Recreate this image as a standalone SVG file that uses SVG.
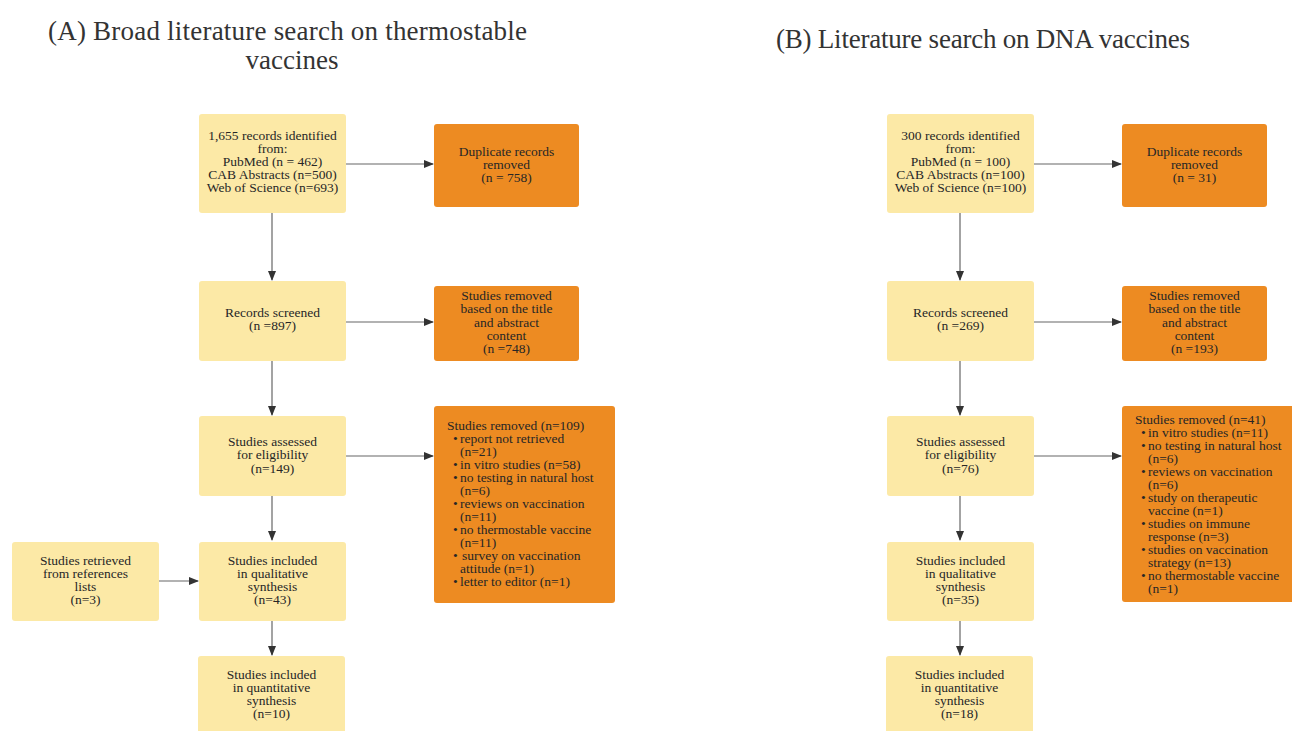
<svg xmlns="http://www.w3.org/2000/svg" width="1292" height="731" viewBox="0 0 1292 731">
<style>
.t{font-family:"Liberation Serif",serif;font-size:27px;fill:#333}
.b{font-family:"Liberation Serif",serif;font-size:13.5px;fill:#262626}
.c{text-anchor:middle}
.y{fill:#FCE9A6}
.o{fill:#ED8B22}
.l{stroke:#666;stroke-width:1.2;fill:none}
</style>
<defs>
<marker id="ah" markerWidth="10" markerHeight="8" refX="9" refY="4" orient="auto" markerUnits="userSpaceOnUse">
<path d="M0,0 L10,4 L0,8 Z" fill="#333"/>
</marker>
</defs>
<rect width="1292" height="731" fill="#fff"/>
<text class="t" x="48" y="40" textLength="479">(A) Broad literature search on thermostable</text>
<text class="t c" x="292" y="69">vaccines</text>
<text class="t" x="776" y="48" textLength="414">(B) Literature search on DNA vaccines</text>

<g id="connectors">
<path class="l" d="M346,164 H433" marker-end="url(#ah)"/>
<path class="l" d="M346,322 H433" marker-end="url(#ah)"/>
<path class="l" d="M346,456 H433" marker-end="url(#ah)"/>
<path class="l" d="M159,581 H198" marker-end="url(#ah)"/>
<path class="l" d="M272,213 V280" marker-end="url(#ah)"/>
<path class="l" d="M272,361 V415" marker-end="url(#ah)"/>
<path class="l" d="M272,496 V540" marker-end="url(#ah)"/>
<path class="l" d="M272,621 V655" marker-end="url(#ah)"/>
<path class="l" d="M1034,164 H1121" marker-end="url(#ah)"/>
<path class="l" d="M1034,322 H1121" marker-end="url(#ah)"/>
<path class="l" d="M1034,456 H1121" marker-end="url(#ah)"/>
<path class="l" d="M960,213 V280" marker-end="url(#ah)"/>
<path class="l" d="M960,361 V415" marker-end="url(#ah)"/>
<path class="l" d="M960,496 V540" marker-end="url(#ah)"/>
<path class="l" d="M960,621 V655" marker-end="url(#ah)"/>
</g>

<g id="a-identified">
<rect class="y" x="199" y="114" width="147" height="99" rx="3"/>
<text class="b c"><tspan x="272.5" y="140">1,655 records identified</tspan><tspan x="272.5" y="153">from:</tspan><tspan x="272.5" y="166">PubMed (n = 462)</tspan><tspan x="272.5" y="179">CAB Abstracts (n=500)</tspan><tspan x="272.5" y="192">Web of Science (n=693)</tspan></text>
</g>
<g id="a-duplicates">
<rect class="o" x="434" y="124" width="145" height="83" rx="3"/>
<text class="b c"><tspan x="506.5" y="156">Duplicate records</tspan><tspan x="506.5" y="169">removed</tspan><tspan x="506.5" y="182">(n = 758)</tspan></text>
</g>
<g id="a-screened">
<rect class="y" x="199" y="281" width="147" height="80" rx="3"/>
<text class="b c"><tspan x="272.5" y="317">Records screened</tspan><tspan x="272.5" y="330">(n =897)</tspan></text>
</g>
<g id="a-removed-title">
<rect class="o" x="434" y="286" width="145" height="75" rx="3"/>
<text class="b c"><tspan x="506.5" y="300">Studies removed</tspan><tspan x="506.5" y="313">based on the title</tspan><tspan x="506.5" y="327">and abstract</tspan><tspan x="506.5" y="340">content</tspan><tspan x="506.5" y="353">(n =748)</tspan></text>
</g>
<g id="a-assessed">
<rect class="y" x="199" y="416" width="147" height="80" rx="3"/>
<text class="b c"><tspan x="272.5" y="446">Studies assessed</tspan><tspan x="272.5" y="459">for eligibility</tspan><tspan x="272.5" y="473">(n=149)</tspan></text>
</g>
<g id="a-removed-eligibility">
<rect class="o" x="434" y="406" width="181" height="197" rx="3"/>
<text class="b"><tspan x="447" y="430">Studies removed (n=109)</tspan><tspan x="453" y="443">•</tspan><tspan x="460" y="443">report not retrieved</tspan><tspan x="460" y="456">(n=21)</tspan><tspan x="453" y="469">•</tspan><tspan x="460" y="469">in vitro studies (n=58)</tspan><tspan x="453" y="482">•</tspan><tspan x="460" y="482">no testing in natural host</tspan><tspan x="460" y="495">(n=6)</tspan><tspan x="453" y="508">•</tspan><tspan x="460" y="508">reviews on vaccination</tspan><tspan x="460" y="521">(n=11)</tspan><tspan x="453" y="534">•</tspan><tspan x="460" y="534">no thermostable vaccine</tspan><tspan x="460" y="547">(n=11)</tspan><tspan x="453" y="560">•</tspan><tspan x="462" y="560">survey on vaccination</tspan><tspan x="460" y="573">attitude (n=1)</tspan><tspan x="453" y="586">•</tspan><tspan x="460" y="586">letter to editor (n=1)</tspan></text>
</g>
<g id="a-retrieved">
<rect class="y" x="12" y="542" width="147" height="79" rx="3"/>
<text class="b c"><tspan x="85.5" y="565">Studies retrieved</tspan><tspan x="85.5" y="578">from references</tspan><tspan x="85.5" y="591">lists</tspan><tspan x="85.5" y="604">(n=3)</tspan></text>
</g>
<g id="a-qualitative">
<rect class="y" x="199" y="542" width="147" height="79" rx="3"/>
<text class="b c"><tspan x="272.5" y="565">Studies included</tspan><tspan x="272.5" y="578">in qualitative</tspan><tspan x="272.5" y="591">synthesis</tspan><tspan x="272.5" y="604">(n=43)</tspan></text>
</g>
<g id="a-quantitative">
<rect class="y" x="198" y="656" width="147" height="80" rx="3"/>
<text class="b c"><tspan x="271.5" y="679">Studies included</tspan><tspan x="271.5" y="692">in quantitative</tspan><tspan x="271.5" y="705">synthesis</tspan><tspan x="271.5" y="718">(n=10)</tspan></text>
</g>

<g id="b-identified">
<rect class="y" x="887" y="114" width="147" height="99" rx="3"/>
<text class="b c"><tspan x="960.5" y="140">300 records identified</tspan><tspan x="960.5" y="153">from:</tspan><tspan x="960.5" y="166">PubMed (n = 100)</tspan><tspan x="960.5" y="179">CAB Abstracts (n=100)</tspan><tspan x="960.5" y="192">Web of Science (n=100)</tspan></text>
</g>
<g id="b-duplicates">
<rect class="o" x="1122" y="124" width="145" height="83" rx="3"/>
<text class="b c"><tspan x="1194.5" y="156">Duplicate records</tspan><tspan x="1194.5" y="169">removed</tspan><tspan x="1194.5" y="182">(n = 31)</tspan></text>
</g>
<g id="b-screened">
<rect class="y" x="887" y="281" width="147" height="80" rx="3"/>
<text class="b c"><tspan x="960.5" y="317">Records screened</tspan><tspan x="960.5" y="330">(n =269)</tspan></text>
</g>
<g id="b-removed-title">
<rect class="o" x="1122" y="286" width="145" height="75" rx="3"/>
<text class="b c"><tspan x="1194.5" y="300">Studies removed</tspan><tspan x="1194.5" y="313">based on the title</tspan><tspan x="1194.5" y="327">and abstract</tspan><tspan x="1194.5" y="340">content</tspan><tspan x="1194.5" y="353">(n =193)</tspan></text>
</g>
<g id="b-assessed">
<rect class="y" x="887" y="416" width="147" height="80" rx="3"/>
<text class="b c"><tspan x="960.5" y="446">Studies assessed</tspan><tspan x="960.5" y="459">for eligibility</tspan><tspan x="960.5" y="473">(n=76)</tspan></text>
</g>
<g id="b-removed-eligibility">
<rect class="o" x="1122" y="406" width="172" height="196" rx="3"/>
<text class="b"><tspan x="1135" y="424">Studies removed (n=41)</tspan><tspan x="1141" y="437">•</tspan><tspan x="1148" y="437">in vitro studies (n=11)</tspan><tspan x="1141" y="450">•</tspan><tspan x="1148" y="450">no testing in natural host</tspan><tspan x="1148" y="463">(n=6)</tspan><tspan x="1141" y="476">•</tspan><tspan x="1148" y="476">reviews on vaccination</tspan><tspan x="1148" y="489">(n=6)</tspan><tspan x="1141" y="502">•</tspan><tspan x="1148" y="502">study on therapeutic</tspan><tspan x="1148" y="515">vaccine (n=1)</tspan><tspan x="1141" y="528">•</tspan><tspan x="1148" y="528">studies on immune</tspan><tspan x="1148" y="541">response (n=3)</tspan><tspan x="1141" y="554">•</tspan><tspan x="1148" y="554">studies on vaccination</tspan><tspan x="1148" y="567">strategy (n=13)</tspan><tspan x="1141" y="580">•</tspan><tspan x="1148" y="580">no thermostable vaccine</tspan><tspan x="1148" y="593">(n=1)</tspan></text>
</g>
<g id="b-qualitative">
<rect class="y" x="887" y="542" width="147" height="79" rx="3"/>
<text class="b c"><tspan x="960.5" y="565">Studies included</tspan><tspan x="960.5" y="578">in qualitative</tspan><tspan x="960.5" y="591">synthesis</tspan><tspan x="960.5" y="604">(n=35)</tspan></text>
</g>
<g id="b-quantitative">
<rect class="y" x="886" y="656" width="147" height="80" rx="3"/>
<text class="b c"><tspan x="959.5" y="679">Studies included</tspan><tspan x="959.5" y="692">in quantitative</tspan><tspan x="959.5" y="705">synthesis</tspan><tspan x="959.5" y="718">(n=18)</tspan></text>
</g>
</svg>
